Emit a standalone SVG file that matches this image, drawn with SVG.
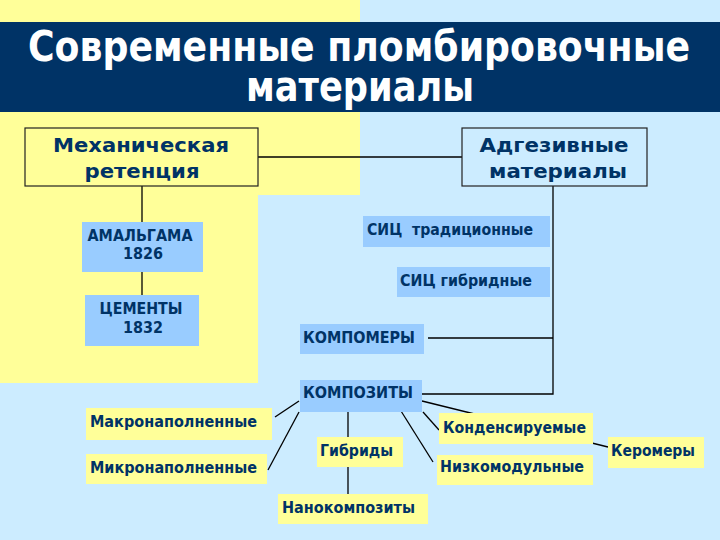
<svg xmlns="http://www.w3.org/2000/svg" width="720" height="540" viewBox="0 0 720 540">
<style>
.t{font-family:"DejaVu Sans","Liberation Sans",sans-serif;font-weight:bold;fill:#003366}
.title{font-family:"DejaVu Sans","Liberation Sans",sans-serif;font-weight:bold;fill:#ffffff;font-size:42px}
.big{font-size:20px}
.n{font-size:15px}
.blue{fill:#99CCFF}
.yel{fill:#FFFF99}
.c{stroke:#000;stroke-width:1.3;fill:none}
.frame{stroke:#222;stroke-width:1.2}
</style>
<rect x="0" y="0" width="720" height="540" fill="#CCECFF"/>
<path d="M0 0H360V195H258V383H0Z" fill="#FFFF99"/>
<rect x="0" y="22" width="720" height="90" fill="#003366"/>
<g id="title">
<text class="title" x="28" y="61" textLength="662" lengthAdjust="spacingAndGlyphs">Современные пломбировочные</text>
<text class="title" x="246" y="101" textLength="228" lengthAdjust="spacingAndGlyphs">материалы</text>
</g>
<g id="connectors" class="c">
<line x1="258" y1="157" x2="462" y2="157"/>
<line x1="142" y1="186" x2="142" y2="222"/>
<line x1="142" y1="272" x2="142" y2="295"/>
<polyline points="553,186 553,394 422,394"/>
<line x1="428" y1="338" x2="553" y2="338"/>
<line x1="299" y1="401" x2="275" y2="417"/>
<line x1="299" y1="412" x2="268" y2="470"/>
<line x1="348" y1="412" x2="348" y2="437"/>
<line x1="348" y1="467" x2="348" y2="494"/>
<line x1="422" y1="401" x2="608" y2="447"/>
<line x1="423" y1="412" x2="439" y2="430"/>
<line x1="401" y1="411" x2="433" y2="462"/>
</g>
<g id="mech">
<rect x="25" y="128" width="233" height="58" class="yel frame"/>
<text class="t big" x="141" y="152" text-anchor="middle" textLength="176" lengthAdjust="spacingAndGlyphs">Механическая</text>
<text class="t big" x="142" y="178" text-anchor="middle" textLength="115" lengthAdjust="spacingAndGlyphs">ретенция</text>
</g>
<g id="adh">
<rect x="462" y="128" width="185" height="58" fill="#CCECFF" class="frame"/>
<text class="t big" x="554" y="152" text-anchor="middle" textLength="149" lengthAdjust="spacingAndGlyphs">Адгезивные</text>
<text class="t big" x="558" y="178" text-anchor="middle" textLength="138" lengthAdjust="spacingAndGlyphs">материалы</text>
</g>
<g id="amalgam">
<rect x="82" y="222" width="121" height="50" class="blue"/>
<text class="t n" x="140" y="241" text-anchor="middle" textLength="105" lengthAdjust="spacingAndGlyphs">АМАЛЬГАМА</text>
<text class="t n" x="143" y="259" text-anchor="middle" textLength="40" lengthAdjust="spacingAndGlyphs">1826</text>
</g>
<g id="cements">
<rect x="85" y="295" width="114" height="51" class="blue"/>
<text class="t n" x="141" y="314" text-anchor="middle" textLength="83" lengthAdjust="spacingAndGlyphs">ЦЕМЕНТЫ</text>
<text class="t n" x="143" y="333" text-anchor="middle" textLength="40" lengthAdjust="spacingAndGlyphs">1832</text>
</g>
<g id="sic-trad">
<rect x="363" y="216" width="187" height="31" class="blue"/>
<text class="t n" x="367" y="235" textLength="166" lengthAdjust="spacingAndGlyphs" xml:space="preserve">СИЦ  традиционные</text>
</g>
<g id="sic-hyb">
<rect x="397" y="267" width="153" height="30" class="blue"/>
<text class="t n" x="400" y="286" textLength="132" lengthAdjust="spacingAndGlyphs">СИЦ гибридные</text>
</g>
<g id="compomers">
<rect x="300" y="324" width="124" height="30" class="blue"/>
<text class="t n" x="303" y="343" textLength="112" lengthAdjust="spacingAndGlyphs">КОМПОМЕРЫ</text>
</g>
<g id="composites">
<rect x="300" y="380" width="122" height="32" class="blue"/>
<text class="t n" x="303" y="398" textLength="110" lengthAdjust="spacingAndGlyphs">КОМПОЗИТЫ</text>
</g>
<g id="macro">
<rect x="86" y="408" width="186" height="32" class="yel"/>
<text class="t n" x="90" y="427" textLength="167" lengthAdjust="spacingAndGlyphs">Макронаполненные</text>
</g>
<g id="micro">
<rect x="86" y="454" width="181" height="30" class="yel"/>
<text class="t n" x="90" y="473" textLength="167" lengthAdjust="spacingAndGlyphs">Микронаполненные</text>
</g>
<g id="hybrids">
<rect x="317" y="437" width="86" height="30" class="yel"/>
<text class="t n" x="320" y="456" textLength="73" lengthAdjust="spacingAndGlyphs">Гибриды</text>
</g>
<g id="nano">
<rect x="278" y="494" width="150" height="30" class="yel"/>
<text class="t n" x="282" y="513" textLength="133" lengthAdjust="spacingAndGlyphs">Нанокомпозиты</text>
</g>
<g id="condens">
<rect x="439" y="413" width="154" height="31" class="yel"/>
<text class="t n" x="443" y="433" textLength="143" lengthAdjust="spacingAndGlyphs">Конденсируемые</text>
</g>
<g id="lowmod">
<rect x="437" y="455" width="156" height="30" class="yel"/>
<text class="t n" x="440" y="472" textLength="144" lengthAdjust="spacingAndGlyphs">Низкомодульные</text>
</g>
<g id="ceromers">
<rect x="608" y="437" width="96" height="31" class="yel"/>
<text class="t n" x="611" y="456" textLength="84" lengthAdjust="spacingAndGlyphs">Керомеры</text>
</g>
</svg>
